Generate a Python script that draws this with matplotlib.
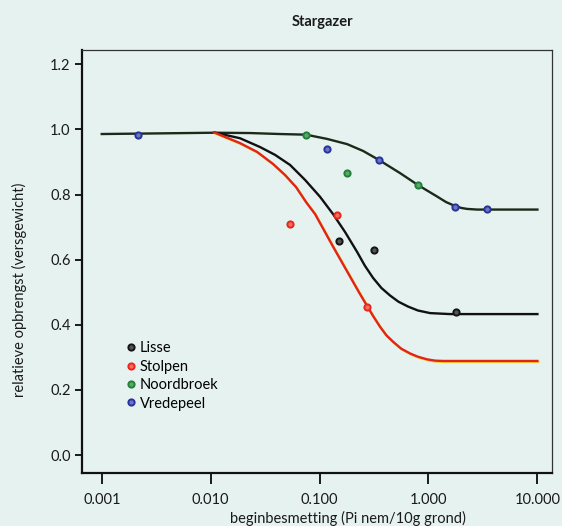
import numpy as np
import matplotlib
matplotlib.use("Agg")
import matplotlib.pyplot as plt
import matplotlib.patheffects as pe

plt.rcParams['font.family'] = ['Lato', 'DejaVu Sans']

# measured points (Pi nem/10g grond, relatieve opbrengst)
lisse_x = [0.151, 0.316, 1.79]
lisse_y = [0.658, 0.629, 0.440]
stolpen_x = [0.0536, 0.144, 0.271]
stolpen_y = [0.710, 0.737, 0.456]
noordbroek_x = [0.0752, 0.180, 0.807]
noordbroek_y = [0.982, 0.866, 0.829]
vredepeel_x = [0.00214, 0.117, 0.352, 1.74, 3.43]
vredepeel_y = [0.984, 0.939, 0.906, 0.762, 0.757]

# fitted curves
upper_x = [0.001, 0.00343, 0.01074, 0.0230, 0.0434, 0.0751, 0.1172, 0.179,
           0.251, 0.352, 0.548, 0.803, 1.20, 1.45, 1.75, 2.0, 2.26, 2.79, 10.0]
upper_y = [0.986, 0.988, 0.990, 0.989, 0.986, 0.984, 0.971, 0.955,
           0.934, 0.906, 0.866, 0.829, 0.794, 0.777, 0.765, 0.759, 0.756, 0.754, 0.754]
lisse_fit_x = [0.01074, 0.01862, 0.0284, 0.0390, 0.0536, 0.0736, 0.1011, 0.133,
               0.1714, 0.221, 0.26, 0.310, 0.37, 0.444, 0.53, 0.650, 0.80, 1.035, 1.58, 10.0]
lisse_fit_y = [0.991, 0.973, 0.946, 0.922, 0.891, 0.845, 0.793, 0.740,
               0.685, 0.624, 0.582, 0.544, 0.513, 0.490, 0.471, 0.456, 0.444, 0.436, 0.433, 0.433]
stolpen_fit_x = [0.01074, 0.01862, 0.0267, 0.0374, 0.0482, 0.0608, 0.0751, 0.0910,
                 0.133, 0.1906, 0.23, 0.273, 0.31, 0.359, 0.41, 0.473, 0.56, 0.678, 0.80,
                 0.970, 1.15, 1.36, 10.0]
stolpen_fit_y = [0.991, 0.958, 0.931, 0.894, 0.860, 0.823, 0.777, 0.740,
                 0.640, 0.548, 0.500, 0.458, 0.427, 0.394, 0.368, 0.348, 0.327, 0.312, 0.302,
                 0.294, 0.290, 0.289, 0.289]

xticks = [0.001, 0.01, 0.1, 1, 10]
xticklabels = ["0.001", "0.010", "0.100", "1.000", "10.000"]
yticks = [0.0, 0.2, 0.4, 0.6, 0.8, 1.0, 1.2]

bg = "#e6f2f0"
fig = plt.figure(figsize=(5.62, 5.26), dpi=100, facecolor=bg)
ax = fig.add_axes([0.1454, 0.1002, 0.837, 0.8047], facecolor=bg)

ax.set_xscale("log")
ax.set_xlim(10**-3.184, 10**1.135)
ax.set_ylim(-0.056, 1.244)

## curves
ax.plot(upper_x, upper_y, color="#1c2a1c", lw=1.7, zorder=2)
ax.plot(lisse_fit_x, lisse_fit_y, color="#111111", lw=1.7, zorder=2)
ax.plot(stolpen_fit_x, stolpen_fit_y, color="#e2231a", lw=1.7, zorder=2,
        path_effects=[pe.SimpleLineShadow(offset=(0.7, -0.7), shadow_color="#f2d21e", alpha=0.9),
                      pe.Normal()])

## points
kw = dict(linestyle="none", marker="o", ms=4.5, mew=1.4, zorder=3)
p1, = ax.plot(lisse_x, lisse_y, color="#151515", mfc="#555555", label="Lisse", **kw)
p2, = ax.plot(stolpen_x, stolpen_y, color="#e8261e", mfc="#f07060", label="Stolpen", **kw)
p3, = ax.plot(noordbroek_x, noordbroek_y, color="#23803a", mfc="#5aa86a", label="Noordbroek", **kw)
p4, = ax.plot(vredepeel_x, vredepeel_y, color="#27339a", mfc="#6a78c0", label="Vredepeel", **kw)

ax.legend(handles=[p1, p2, p3, p4], loc="upper left", bbox_to_anchor=(0.096, 0.3116),
          frameon=False, fontsize=10.5, borderpad=0, borderaxespad=0,
          handlelength=0.6, handletextpad=0.3, labelspacing=0.3)

## axes styling
ax.set_xticks(xticks)
ax.set_xticklabels(xticklabels)
ax.minorticks_off()
ax.set_yticks(yticks)
ax.set_yticklabels(["%.1f" % v for v in yticks])
ax.tick_params(axis="both", direction="out", length=5, width=1.4, labelsize=10.5, pad=3,
               colors="#1a1a1a")
ax.tick_params(axis="x", length=8, pad=6)
for s in ["left", "bottom"]:
    ax.spines[s].set_linewidth(1.6)
    ax.spines[s].set_color("#111111")
for s in ["top", "right"]:
    ax.spines[s].set_linewidth(0.9)
    ax.spines[s].set_color("#333333")

ax.set_xlabel("beginbesmetting (Pi nem/10g grond)", fontsize=10.5, color="#1a1a1a")
ax.xaxis.set_label_coords(0.566, -0.089)
ax.set_ylabel("relatieve opbrengst (versgewicht)", fontsize=10.5, color="#1a1a1a")
ax.yaxis.set_label_coords(-0.116, 0.433)

fig.text(0.574, 0.958, "Stargazer", ha="center", va="center", fontsize=10.5,
         fontweight="bold", color="#1a1a1a")

plt.savefig("out.png", dpi=100, facecolor=bg)
